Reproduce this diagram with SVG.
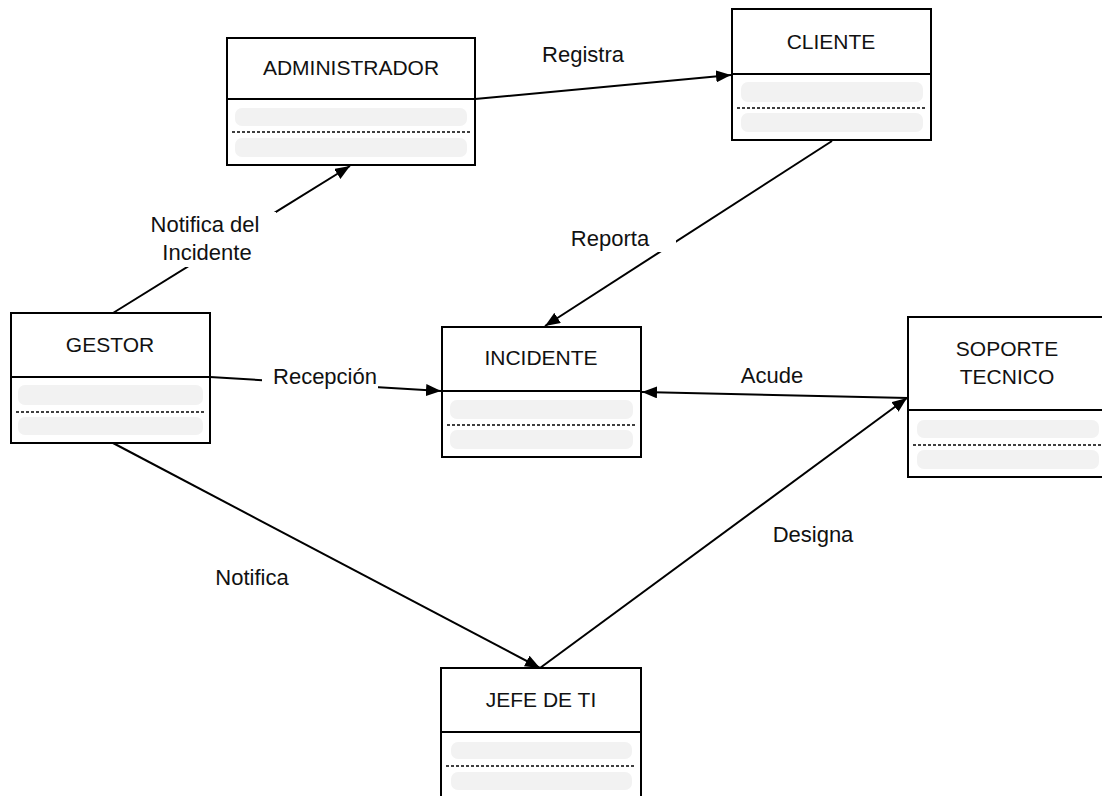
<svg xmlns="http://www.w3.org/2000/svg" width="1102" height="796" viewBox="0 0 1102 796">
  <style>
    .box { fill: #ffffff; stroke: #000000; stroke-width: 2; }
    .div { stroke: #000000; stroke-width: 2; }
    .bar { fill: #f2f2f2; }
    .dash { stroke: #000000; stroke-width: 1.5; stroke-dasharray: 3 2; }
    .title { font-family: "Liberation Sans", Arial, sans-serif; font-size: 21px; fill: #111111; text-anchor: middle; }
    .label { font-family: "Liberation Sans", Arial, sans-serif; font-size: 22px; fill: #111111; text-anchor: middle; }
    .edge { fill: none; stroke: #000000; stroke-width: 2; marker-end: url(#arrow); }
    .lblbg { fill: #ffffff; }
  </style>
  <defs>
    <marker id="arrow" markerUnits="userSpaceOnUse" markerWidth="16" markerHeight="12" refX="15" refY="6" orient="auto">
      <path d="M0,0 L15,6 L0,12 z" fill="#000000"/>
    </marker>
  </defs>
  <rect width="1102" height="796" fill="#ffffff"/>

  <!-- connectors -->
  <g id="connectors">
    <line class="edge" x1="475" y1="99" x2="731" y2="75"/>
    <line class="edge" x1="832" y1="141" x2="545" y2="326"/>
    <line class="edge" x1="113" y1="313" x2="350" y2="166"/>
    <line class="edge" x1="210" y1="377" x2="441" y2="391"/>
    <line class="edge" x1="908" y1="398" x2="642" y2="392"/>
    <line class="edge" x1="113" y1="443" x2="540" y2="668"/>
    <line class="edge" x1="540" y1="668" x2="907" y2="398"/>

    <!-- edge labels -->
    <text class="label" x="583" y="62">Registra</text>
    <rect class="lblbg" x="565" y="224" width="111" height="28"/>
    <text class="label" x="610" y="246">Reporta</text>
    <rect class="lblbg" x="143" y="212" width="133" height="55"/>
    <text class="label" x="205" y="232">Notifica del</text>
    <text class="label" x="207" y="260">Incidente</text>
    <rect class="lblbg" x="262" y="364" width="116" height="30"/>
    <text class="label" x="325" y="384">Recepción</text>
    <text class="label" x="772" y="383">Acude</text>
    <text class="label" x="813" y="542">Designa</text>
    <text class="label" x="252" y="585">Notifica</text>
  </g>

  <!-- ADMINISTRADOR -->
  <g id="administrador">
    <rect class="box" x="227" y="38" width="248" height="127"/>
    <line class="div" x1="227" y1="99" x2="475" y2="99"/>
    <rect class="bar" x="235" y="108" width="232" height="18" rx="7"/>
    <line class="dash" x1="232" y1="132" x2="470" y2="132"/>
    <rect class="bar" x="235" y="138" width="232" height="19" rx="7"/>
    <text class="title" x="351" y="75">ADMINISTRADOR</text>
  </g>

  <!-- CLIENTE -->
  <g id="cliente">
    <rect class="box" x="732" y="9" width="199" height="131"/>
    <line class="div" x1="732" y1="74" x2="931" y2="74"/>
    <rect class="bar" x="741" y="82" width="182" height="20" rx="7"/>
    <line class="dash" x1="737" y1="108" x2="926" y2="108"/>
    <rect class="bar" x="741" y="113" width="182" height="19" rx="7"/>
    <text class="title" x="831" y="49">CLIENTE</text>
  </g>

  <!-- GESTOR -->
  <g id="gestor">
    <rect class="box" x="11" y="313" width="199" height="130"/>
    <line class="div" x1="11" y1="377" x2="210" y2="377"/>
    <rect class="bar" x="18" y="385" width="185" height="20" rx="7"/>
    <line class="dash" x1="16" y1="412" x2="205" y2="412"/>
    <rect class="bar" x="18" y="417" width="185" height="18" rx="7"/>
    <text class="title" x="110" y="352">GESTOR</text>
  </g>

  <!-- INCIDENTE -->
  <g id="incidente">
    <rect class="box" x="442" y="327" width="199" height="130"/>
    <line class="div" x1="442" y1="391" x2="641" y2="391"/>
    <rect class="bar" x="450" y="400" width="183" height="19" rx="7"/>
    <line class="dash" x1="447" y1="425" x2="636" y2="425"/>
    <rect class="bar" x="450" y="430" width="183" height="19" rx="7"/>
    <text class="title" x="541" y="365">INCIDENTE</text>
  </g>

  <!-- SOPORTE TECNICO -->
  <g id="soporte-tecnico">
    <rect class="box" x="908" y="317" width="199" height="160"/>
    <line class="div" x1="908" y1="410" x2="1107" y2="410"/>
    <rect class="bar" x="917" y="420" width="182" height="18" rx="7"/>
    <line class="dash" x1="913" y1="445" x2="1102" y2="445"/>
    <rect class="bar" x="917" y="450" width="182" height="19" rx="7"/>
    <text class="title" x="1007" y="356">SOPORTE</text>
    <text class="title" x="1007" y="384">TECNICO</text>
  </g>

  <!-- JEFE DE TI -->
  <g id="jefe-de-ti">
    <rect class="box" x="441" y="668" width="200" height="140"/>
    <line class="div" x1="441" y1="732" x2="641" y2="732"/>
    <rect class="bar" x="451" y="742" width="181" height="17" rx="7"/>
    <line class="dash" x1="446" y1="766" x2="636" y2="766"/>
    <rect class="bar" x="451" y="772" width="181" height="18" rx="7"/>
    <text class="title" x="541" y="707">JEFE DE TI</text>
  </g>
</svg>
